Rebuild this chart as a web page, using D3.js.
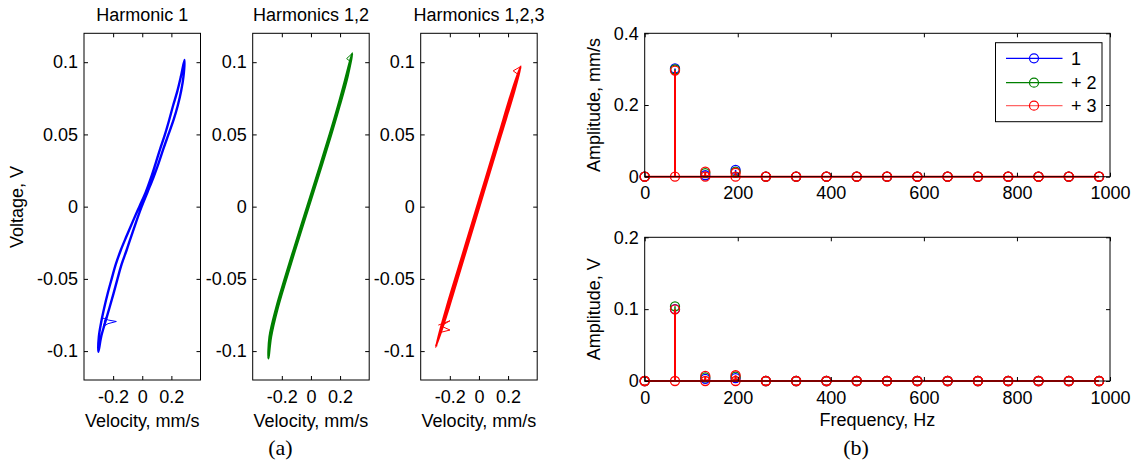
<!DOCTYPE html>
<html>
<head>
<meta charset="utf-8">
<script src="https://cdn.jsdelivr.net/npm/d3@7"></script>
<style>
  body { margin: 0; background: #fff; }
  svg text { font-family: "Liberation Sans", Arial, sans-serif; fill: #000; }
</style>
</head>
<body>
<svg id="chart" width="1134" height="462"></svg>
<script>
// ---- data ----
const titles = ["Harmonic 1", "Harmonics 1,2", "Harmonics 1,2,3"];
const colors = ["#0000ff", "#008000", "#ff0000"];
const velTicks = [-0.2, 0, 0.2];
const voltTicks = [-0.1, -0.05, 0, 0.05, 0.1];

// [velocity mm/s, voltage V], traced round each loop (up one side, down the other)
const loop1 = [
  [-0.301, -0.1005], [-0.298, -0.090], [-0.282, -0.080], [-0.261, -0.070], [-0.237, -0.060],
  [-0.210, -0.050], [-0.182, -0.040], [-0.147, -0.030], [-0.106, -0.020], [-0.064, -0.010],
  [-0.020, 0.000], [0.024, 0.010], [0.060, 0.020], [0.092, 0.030], [0.123, 0.040],
  [0.156, 0.050], [0.185, 0.060], [0.212, 0.070], [0.241, 0.080], [0.265, 0.090],
  [0.290, 0.1015],
  [0.283, 0.090], [0.267, 0.080], [0.244, 0.070], [0.215, 0.060], [0.180, 0.050],
  [0.145, 0.040], [0.112, 0.030], [0.076, 0.020], [0.036, 0.010], [-0.004, 0.000],
  [-0.040, -0.010], [-0.074, -0.020], [-0.107, -0.030], [-0.142, -0.040], [-0.170, -0.050],
  [-0.197, -0.060], [-0.225, -0.070], [-0.254, -0.080], [-0.282, -0.090]
];
const loop2 = [
  [-0.292, -0.105], [-0.284, -0.090], [-0.238, -0.070], [-0.180, -0.050], [-0.119, -0.030],
  [-0.057, -0.010], [0.006, 0.010], [0.068, 0.030], [0.129, 0.050], [0.187, 0.070],
  [0.241, 0.090], [0.283, 0.106],
  [0.251, 0.090], [0.197, 0.070], [0.139, 0.050], [0.078, 0.030], [0.016, 0.010],
  [-0.047, -0.010], [-0.109, -0.030], [-0.170, -0.050], [-0.228, -0.070], [-0.274, -0.090]
];
const loop3 = [
  [-0.296, -0.097], [-0.222, -0.070], [-0.132, -0.040], [-0.042, -0.010], [0.048, 0.020],
  [0.138, 0.050], [0.228, 0.080], [0.287, 0.097],
  [0.242, 0.080], [0.152, 0.050], [0.062, 0.020], [-0.028, -0.010], [-0.118, -0.040],
  [-0.208, -0.070]
];
// start-up transients
const spike1 = [[-0.275, -0.077], [-0.232, -0.0785], [-0.178, -0.0795], [-0.235, -0.081], [-0.268, -0.083], [-0.245, -0.076], [-0.262, -0.080]];
const spike2 = [[0.283, 0.106], [0.245, 0.1025], [0.270, 0.1005]];
const spike3 = [[-0.279, -0.082], [-0.199, -0.079], [-0.261, -0.0826], [-0.199, -0.0854], [-0.274, -0.0873]];
const spike3top = [[0.287, 0.097], [0.235, 0.094], [0.262, 0.092]];

const freqs = [0, 65.1, 130.2, 195.3, 260.4, 325.5, 390.6, 455.7, 520.8, 585.9, 651.0, 716.1, 781.2, 846.3, 911.4, 976.5];
const velAmp1 = [0, 0.302, 0.004, 0.019, 0, 0, 0, 0, 0, 0, 0, 0, 0, 0, 0, 0];
const velAmp2 = [0, 0.299, 0.010, 0.014, 0, 0, 0, 0, 0, 0, 0, 0, 0, 0, 0, 0];
const velAmp3 = [0, 0.296, 0.014, 0.011, 0, 0, 0, 0, 0, 0, 0, 0, 0, 0, 0, 0];
const voltAmp1 = [0, 0.100, 0.003, 0.004, 0, 0, 0, 0, 0, 0, 0, 0, 0, 0, 0, 0];
const voltAmp2 = [0, 0.104, 0.005, 0.006, 0, 0, 0, 0, 0, 0, 0, 0, 0, 0, 0, 0];
const voltAmp3 = [0, 0.0998, 0.007, 0.008, 0, 0, 0, 0, 0, 0, 0, 0, 0, 0, 0, 0];
const freqTicks = [0, 200, 400, 600, 800, 1000];
const legendLabels = ["1", "+ 2", "+ 3"];

// ---- layout ----
const svg = d3.select("#chart");
const FS = 18;
const fmt = d => String(d);

// MATLAB-like box with inward ticks on all four sides
function boxAxes(g, x, y, xt, yt) {
  const [x0, x1] = x.range(), [y0, y1] = y.range();
  g.append("g").attr("transform", `translate(0,${y0})`)
    .call(d3.axisBottom(x).tickValues(xt).tickSize(-4).tickPadding(10).tickFormat(fmt));
  g.append("g").attr("transform", `translate(0,${y1})`)
    .call(d3.axisTop(x).tickValues(xt).tickSize(-4).tickFormat(""));
  g.append("g").attr("transform", `translate(${x0},0)`)
    .call(d3.axisLeft(y).tickValues(yt).tickSize(-4).tickPadding(6).tickFormat(fmt));
  g.append("g").attr("transform", `translate(${x1},0)`)
    .call(d3.axisRight(y).tickValues(yt).tickSize(-4).tickFormat(""));
  g.selectAll(".domain").remove();
  g.selectAll(".tick line").attr("stroke", "#000");
  g.selectAll(".tick text").style("font-size", FS + "px").attr("fill", "#000");
  g.append("rect").attr("x", x0).attr("y", y1).attr("width", x1 - x0).attr("height", y0 - y1)
    .attr("fill", "none").attr("stroke", "#000").attr("stroke-width", 1);
}

// ---- (a) phase plots ----
const loops = [loop1, loop2, loop3];
const spikes = [[spike1], [spike2], [spike3, spike3top]];
const panelLeft = [84, 252.7, 420.7];
const panelW = 116.5;
const ys = d3.scaleLinear().domain([-0.12, 0.12]).range([380, 33.3]);

loops.forEach((loop, i) => {
  const xs = d3.scaleLinear().domain([-0.4, 0.4]).range([panelLeft[i], panelLeft[i] + panelW]);
  const g = svg.append("g");
  const line = d3.line().x(d => xs(d[0])).y(d => ys(d[1])).curve(d3.curveCatmullRomClosed.alpha(0.5));
  g.append("path").attr("d", line(loop)).attr("fill", "none")
    .attr("stroke", colors[i]).attr("stroke-width", 2.4).attr("stroke-linejoin", "round");
  const open = d3.line().x(d => xs(d[0])).y(d => ys(d[1]));
  spikes[i].forEach(s => g.append("path").attr("d", open(s)).attr("fill", "none")
    .attr("stroke", colors[i]).attr("stroke-width", 1));
  boxAxes(g, xs, ys, velTicks, voltTicks);
  const cx = panelLeft[i] + panelW / 2;
  g.append("text").attr("x", cx).attr("y", 20.5).attr("text-anchor", "middle")
    .style("font-size", FS + "px").text(titles[i]);
  g.append("text").attr("x", cx).attr("y", 426.5).attr("text-anchor", "middle")
    .style("font-size", FS + "px").text("Velocity, mm/s");
});
svg.append("text").attr("transform", "translate(23,207) rotate(-90)").attr("text-anchor", "middle")
  .style("font-size", FS + "px").text("Voltage, V");
svg.append("text").attr("x", 280.5).attr("y", 455).attr("text-anchor", "middle")
  .style("font-family", "'Liberation Serif', 'Times New Roman', serif").style("font-size", "22px").text("(a)");

// ---- (b) spectra ----
const xf = d3.scaleLinear().domain([0, 1000]).range([644.7, 1110]);
function stemPanel(series, yDomain, yRange, yTicks, ylab, xlab) {
  const y = d3.scaleLinear().domain(yDomain).range(yRange);
  const g = svg.append("g");
  series.forEach((vals, s) => {
    const pts = freqs.map((f, k) => [f, vals[k]]);
    g.selectAll(null).data(pts.filter(p => p[1] > 0)).enter().append("line")
      .attr("x1", d => xf(d[0])).attr("x2", d => xf(d[0]))
      .attr("y1", y(0)).attr("y2", d => y(d[1]))
      .attr("stroke", colors[s]).attr("stroke-width", s === 2 ? 2 : 1.5);
    if (s === 2) {
      // stem baseline with its markers
      g.append("line").attr("x1", xf(freqs[0])).attr("x2", xf(freqs[freqs.length - 1]))
        .attr("y1", y(0)).attr("y2", y(0)).attr("stroke", colors[s]).attr("stroke-width", 2);
      g.selectAll(null).data(freqs).enter().append("circle")
        .attr("cx", d => xf(d)).attr("cy", y(0)).attr("r", 4.5)
        .attr("fill", "none").attr("stroke", colors[s]).attr("stroke-width", 1.3);
    }
    g.selectAll(null).data(pts).enter().append("circle")
      .attr("cx", d => xf(d[0])).attr("cy", d => y(d[1])).attr("r", 4.5)
      .attr("fill", "none").attr("stroke", colors[s]).attr("stroke-width", 1.3);
  });
  boxAxes(g, xf, y, freqTicks, yTicks);
  g.append("text").attr("transform", `translate(600,${(yRange[0] + yRange[1]) / 2}) rotate(-90)`)
    .attr("text-anchor", "middle").style("font-size", FS + "px").text(ylab);
  if (xlab) g.append("text").attr("x", (xf.range()[0] + xf.range()[1]) / 2).attr("y", 426)
    .attr("text-anchor", "middle").style("font-size", FS + "px").text(xlab);
  return g;
}
const velPanel = stemPanel([velAmp1, velAmp2, velAmp3], [0, 0.4], [176.7, 33.3], [0, 0.2, 0.4], "Amplitude, mm/s");
stemPanel([voltAmp1, voltAmp2, voltAmp3], [0, 0.2], [381, 237.3], [0, 0.1, 0.2], "Amplitude, V", "Frequency, Hz");

// legend
const lg = velPanel.append("g");
lg.append("rect").attr("x", 995.5).attr("y", 42.7).attr("width", 106.5).attr("height", 79)
  .attr("fill", "#fff").attr("stroke", "#000").attr("stroke-width", 1);
legendLabels.forEach((lab, i) => {
  const yy = [58.3, 82.7, 105.7][i];
  lg.append("line").attr("x1", 1006).attr("x2", 1062.5).attr("y1", yy).attr("y2", yy)
    .attr("stroke", colors[i]).attr("stroke-width", 1.2).attr("opacity", i === 2 ? 0.6 : 1);
  lg.append("circle").attr("cx", 1034).attr("cy", yy).attr("r", 4.5)
    .attr("fill", "none").attr("stroke", colors[i]).attr("stroke-width", 1.2);
  lg.append("text").attr("x", 1071).attr("y", yy + 6.5).style("font-size", FS + "px").text(lab);
});

svg.append("text").attr("x", 856).attr("y", 455).attr("text-anchor", "middle")
  .style("font-family", "'Liberation Serif', 'Times New Roman', serif").style("font-size", "22px").text("(b)");
</script>
</body>
</html>
